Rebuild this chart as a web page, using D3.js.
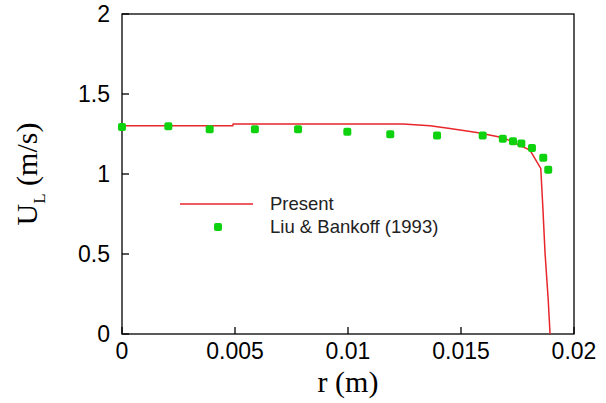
<!DOCTYPE html>
<html>
<head>
<meta charset="utf-8">
<title>Liquid velocity profile</title>
<script src="https://d3js.org/d3.v7.min.js"></script>
<style>
  body { margin: 0; background: #fff; }
  svg { display: block; }
  .tick-label { font-family: "Liberation Sans", Arial, sans-serif; font-size: 23px; fill: #000; }
  .axis-title { font-family: "Liberation Serif", "Times New Roman", serif; font-size: 30px; fill: #000; }
  .legend-text { font-family: "Liberation Sans", Arial, sans-serif; font-size: 18.5px; fill: #222; }
</style>
</head>
<body>
<svg id="chart"></svg>
<script>
const W = 606, H = 403;

// model result (Present)
const presentR = [0, 0.0049, 0.00492, 0.01243, 0.01363, 0.01451, 0.0157, 0.01687, 0.01805, 0.01853, 0.01862, 0.01872, 0.01886, 0.01894];
const presentU = [1.302, 1.302, 1.3125, 1.3125, 1.302, 1.285, 1.26, 1.227, 1.15, 1.035, 0.796, 0.504, 0.2125, 0];

// experiment, Liu & Bankoff (1993)
const expR = [0, 0.00205, 0.00388, 0.00588, 0.00779, 0.00997, 0.01187, 0.01394, 0.01596, 0.01685, 0.0173, 0.01767, 0.01814, 0.01864, 0.01886];
const expU = [1.294, 1.298, 1.279, 1.279, 1.279, 1.264, 1.248, 1.24, 1.24, 1.221, 1.204, 1.19, 1.1625, 1.102, 1.027];

const xTicks = [0, 0.005, 0.01, 0.015, 0.02];
const xTickLabels = ["0", "0.005", "0.01", "0.015", "0.02"];
const yTicks = [0, 0.5, 1, 1.5, 2];
const yTickLabels = ["0", "0.5", "1", "1.5", "2"];
const legendLabels = ["Present", "Liu & Bankoff (1993)"];

const margin = {left: 122, right: 32, top: 14, bottom: 69};
const x = d3.scaleLinear().domain([0, 0.02]).range([margin.left, W - margin.right]);
const y = d3.scaleLinear().domain([0, 2]).range([H - margin.bottom, margin.top]);

const svg = d3.select("#chart").attr("width", W).attr("height", H);

const lineColor = "#e8262c";
const dotColor = "#0fd20f";

// frame
svg.append("rect")
  .attr("x", x(0)).attr("y", y(2))
  .attr("width", x(0.02) - x(0)).attr("height", y(0) - y(2))
  .attr("fill", "none").attr("stroke", "#000").attr("stroke-width", 1.3);

// ticks pointing inwards
svg.selectAll(".xtick").data(xTicks).enter().append("line")
  .attr("x1", d => x(d)).attr("x2", d => x(d))
  .attr("y1", y(0)).attr("y2", y(0) - 7)
  .attr("stroke", "#000").attr("stroke-width", 1.3);
svg.selectAll(".ytick").data(yTicks).enter().append("line")
  .attr("x1", x(0)).attr("x2", x(0) + 7)
  .attr("y1", d => y(d)).attr("y2", d => y(d))
  .attr("stroke", "#000").attr("stroke-width", 1.3);

svg.selectAll(".xlab").data(xTicks).enter().append("text")
  .attr("class", "tick-label")
  .attr("x", d => x(d)).attr("y", y(0) + 25)
  .attr("text-anchor", "middle")
  .text((d, i) => xTickLabels[i]);
svg.selectAll(".ylab").data(yTicks).enter().append("text")
  .attr("class", "tick-label")
  .attr("x", x(0) - 12).attr("y", d => y(d) + 8)
  .attr("text-anchor", "end")
  .text((d, i) => yTickLabels[i]);

// axis titles
svg.append("text").attr("class", "axis-title")
  .attr("x", (x(0) + x(0.02)) / 2).attr("y", 392)
  .attr("text-anchor", "middle")
  .text("r (m)");

const yt = svg.append("text").attr("class", "axis-title")
  .attr("transform", `translate(37,${(y(0) + y(2)) / 2}) rotate(-90)`)
  .attr("text-anchor", "middle");
yt.append("tspan").text("U");
yt.append("tspan").attr("dy", 8).style("font-size", "17px").text("L");
yt.append("tspan").attr("dy", -8).text(" (m/s)");

// model line
const present = presentR.map((r, i) => [r, presentU[i]]);
svg.append("path")
  .datum(present)
  .attr("d", d3.line().x(d => x(d[0])).y(d => y(d[1])))
  .attr("fill", "none").attr("stroke", lineColor).attr("stroke-width", 1.5);

// experimental points
const exp = expR.map((r, i) => [r, expU[i]]);
svg.selectAll(".dot").data(exp).enter().append("rect")
  .attr("x", d => x(d[0]) - 4).attr("y", d => y(d[1]) - 4)
  .attr("width", 8).attr("height", 8).attr("rx", 2)
  .attr("fill", dotColor);

// legend
svg.append("line")
  .attr("x1", 180).attr("x2", 253).attr("y1", 204).attr("y2", 204)
  .attr("stroke", lineColor).attr("stroke-width", 1.5);
svg.append("rect")
  .attr("x", 214).attr("y", 223).attr("width", 8).attr("height", 8).attr("rx", 2)
  .attr("fill", dotColor);
svg.selectAll(".legend-text").data(legendLabels).enter().append("text")
  .attr("class", "legend-text")
  .attr("x", 270).attr("y", (d, i) => 210 + i * 23)
  .text(d => d);
</script>
</body>
</html>
